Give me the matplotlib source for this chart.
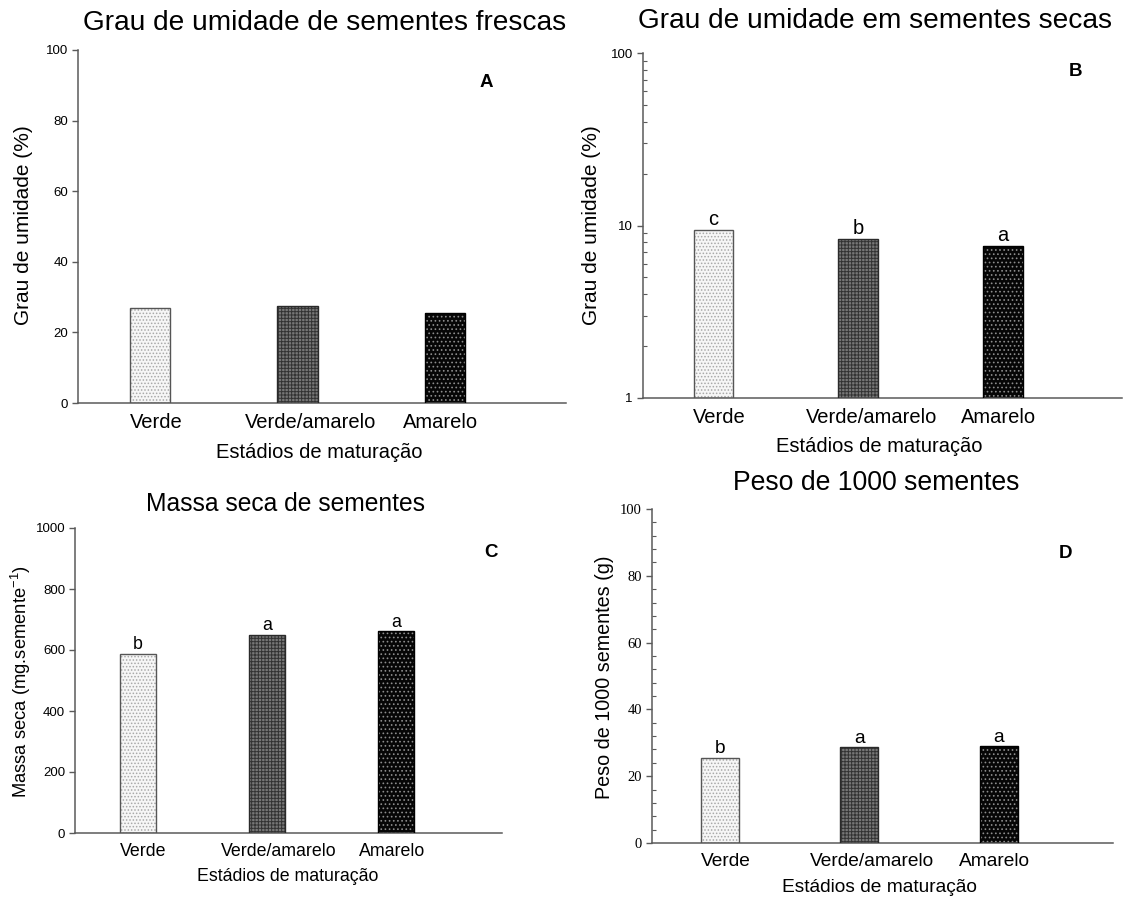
# -*- coding: utf-8 -*-
"""
Maturacao de sementes - quatro paineis (A, B, C, D)
"""

import numpy as np
import matplotlib.pyplot as plt

from matplotlib.ticker import MultipleLocator, FixedLocator, NullFormatter, LogLocator

plt.rcParams['font.family']=['Liberation Sans','DejaVu Sans']
plt.rcParams['mathtext.fontset']='custom'
plt.rcParams['mathtext.rm']='Liberation Sans'
plt.rcParams['mathtext.default']='regular'
plt.rcParams['hatch.linewidth']=0.7

#------------------------------------------------------------------------------
#data
estadios=['Verde','Verde/amarelo','Amarelo']

umidade_frescas=[26.8,27.4,25.4]

umidade_secas=[9.4,8.4,7.6]
letras_secas=['c','b','a']

massa_seca=[588,650,661]
letras_massa=['b','a','a']

peso_1000=[25.4,28.6,28.9]
letras_peso=['b','a','a']

#bar styles: face, hatch, hatch colour, edge
estilos=[('#f6f6f6','.....','#a8a8a8','#555555'),
         ('#777777','+++++','#333333','#2a2a2a'),
         ('#060606','....','#8c8c8c','#000000')]

W,H=1123,899
x=np.arange(len(estadios))
pos_rotulos=[0.04,1.09,1.97]
largura=0.275
cor_eixo='#5a5a5a'

fig=plt.figure(figsize=(W/100,H/100),dpi=100)

#------------------------------------------------------------------------------
def Eixo(left,top,right,bottom):
    
    return fig.add_axes([left/W,1-bottom/H,(right-left)/W,(bottom-top)/H])

#------------------------------------------------------------------------------
def Painel(ax,valores,letras,titulo,ylabel,painel,pos,fs=1.0,base=0):
    
    #bars: hatched fill then outline
    for i in range(len(valores)):
        
        face,hatch,cor_hatch,borda=estilos[i]
        
        ax.bar(x[i],valores[i]-base,width=largura,bottom=base,color=face,
               hatch=hatch,edgecolor=cor_hatch,linewidth=0,zorder=2)
        ax.bar(x[i],valores[i]-base,width=largura,bottom=base,fill=False,
               edgecolor=borda,linewidth=1.0,zorder=3)
        
    #letters above bars
    if letras is not None:
        
        for i in range(len(valores)):
            
            ax.annotate(letras[i],(x[i],valores[i]),xytext=(0,0.5),
                        textcoords='offset points',ha='center',va='bottom',
                        fontsize=14.5*fs)
            
    ax.set_xlim(-0.49,2.82)
    
    for s in ['top','right']:
        
        ax.spines[s].set_visible(False)
        
    for s in ['left','bottom']:
        
        ax.spines[s].set_color(cor_eixo)
        ax.spines[s].set_linewidth(1.1)
        
    ax.set_xticks(pos_rotulos)
    ax.set_xticklabels(estadios)
    ax.tick_params(axis='x',length=0,pad=7,labelsize=14.5*fs)
    ax.tick_params(axis='y',which='major',direction='out',length=4,width=1,
                   color=cor_eixo,labelsize=9.5,pad=3)
    
    #texts
    xl,yl,tt,pl=pos
    
    ax.set_xlabel('Estádios de maturação',fontsize=14.5*fs)
    ax.xaxis.set_label_coords(*xl)
    ax.xaxis.label.set_va('center')
    
    ax.set_ylabel(ylabel,fontsize=15*fs)
    ax.yaxis.set_label_coords(*yl)
    ax.yaxis.label.set_va('center')
    
    ax.text(tt[0],tt[1],titulo,transform=ax.transAxes,ha='center',va='center',
            fontsize=20.2*fs)
    ax.text(pl[0],pl[1],painel,transform=ax.transAxes,ha='center',va='center',
            fontsize=13.5,fontweight='bold')

#------------------------------------------------------------------------------
#A
axA=Eixo(77.7,50,566,403)
axA.set_ylim(0,100)
axA.yaxis.set_major_locator(MultipleLocator(20))
Painel(axA,umidade_frescas,None,'Grau de umidade de sementes frescas',
       'Grau de umidade (%)','A',
       [(0.494,-0.139),(-0.110,0.504),(0.506,1.076),(0.836,0.907)])

#B
axB=Eixo(642.6,53,1122,398)
axB.set_yscale('log')
axB.set_ylim(1,100)
Painel(axB,umidade_secas,letras_secas,'Grau de umidade em sementes secas',
       'Grau de umidade (%)','B',
       [(0.493,-0.142),(-0.106,0.501),(0.485,1.092),(0.904,0.945)],base=1)
axB.yaxis.set_major_locator(FixedLocator([1,10,100]))
axB.set_yticklabels(['1','10','100'])
axB.yaxis.set_minor_locator(LogLocator(base=10,subs=np.arange(2,10)))
axB.yaxis.set_minor_formatter(NullFormatter())
axB.tick_params(axis='y',which='minor',direction='in',length=3,width=0.8,color=cor_eixo)

#C
axC=Eixo(75,528,502,833)
axC.set_ylim(0,1000)
axC.yaxis.set_major_locator(MultipleLocator(200))
Painel(axC,massa_seca,letras_massa,'Massa seca de sementes',
       'Massa seca (mg.semente$^{-1}$)','C',
       [(0.498,-0.141),(-0.126,0.495),(0.492,1.078),(0.974,0.921)],fs=0.88)

#D
axD=Eixo(651.6,509,1113,843)
axD.set_ylim(0,100)
axD.yaxis.set_major_locator(MultipleLocator(20))
axD.yaxis.set_minor_locator(MultipleLocator(4))
Painel(axD,peso_1000,letras_peso,'Peso de 1000 sementes',
       'Peso de 1000 sementes (g)','D',
       [(0.495,-0.132),(-0.101,0.497),(0.487,1.078),(0.898,0.868)],fs=0.95)
axD.tick_params(axis='y',which='minor',direction='in',length=3,width=0.8,color=cor_eixo)

for this_label in axD.get_yticklabels():
    
    this_label.set_fontname('Liberation Serif')
    this_label.set_fontsize(10.5)

plt.savefig('out.png',dpi=100)
plt.close()
